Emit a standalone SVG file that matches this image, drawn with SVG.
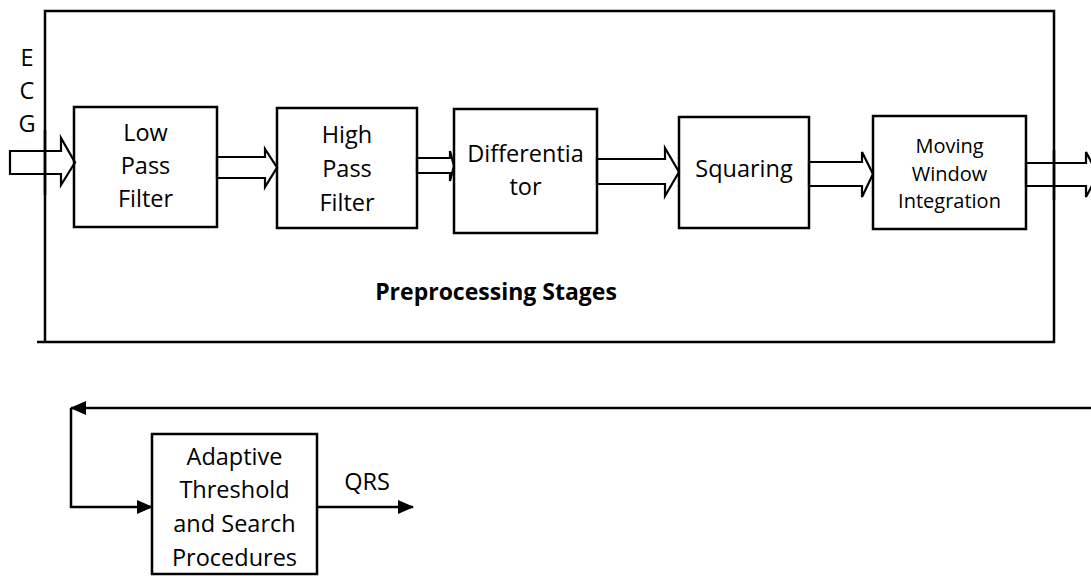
<svg xmlns="http://www.w3.org/2000/svg" width="1091" height="580" viewBox="0 0 1091 580">
<style>
.box{fill:#fff;stroke:#000;stroke-width:2.5}
.blk{fill:none;stroke:#000;stroke-width:2.2;stroke-linejoin:miter}
.ln{fill:none;stroke:#000;stroke-width:2.5}
.t{font-family:"Open Sans","Liberation Sans",sans-serif;font-size:23.5px;fill:#000;text-anchor:middle}
.s{font-size:20px}
.b{font-weight:bold;font-size:23px}
</style>
<defs>
<marker id="ah" viewBox="0 0 16 16" refX="15" refY="8" markerWidth="16" markerHeight="16" markerUnits="userSpaceOnUse" orient="auto">
<path d="M0,1 L16,8 L0,15 Z" fill="#000"/>
</marker>
</defs>
<rect width="1091" height="580" fill="#fff"/>

<g id="preprocessing-frame">
<path class="ln" d="M37,342 L1054,342 L1054,11 L45,11 L45,342"/>
<text class="t b" x="496" y="300">Preprocessing Stages</text>
</g>

<g id="ecg-label">
<text class="t" x="27" y="66">E</text>
<text class="t" x="27" y="99">C</text>
<text class="t" x="27" y="132">G</text>
</g>

<g id="low-pass-filter">
<rect class="box" x="74" y="107" width="143" height="120"/>
<text class="t" x="145.5" y="141">Low</text>
<text class="t" x="145.5" y="174">Pass</text>
<text class="t" x="145.5" y="207">Filter</text>
</g>

<g id="high-pass-filter">
<rect class="box" x="277" y="108" width="140" height="120"/>
<text class="t" x="347" y="143">High</text>
<text class="t" x="347" y="177">Pass</text>
<text class="t" x="347" y="211">Filter</text>
</g>

<g id="differentiator">
<rect class="box" x="454" y="109" width="143" height="124"/>
<text class="t" x="525.5" y="162">Differentia</text>
<text class="t" x="525.5" y="195">tor</text>
</g>

<g id="squaring">
<rect class="box" x="679" y="117" width="130" height="111"/>
<text class="t" x="744" y="177">Squaring</text>
</g>

<g id="moving-window-integration">
<rect class="box" x="873" y="116" width="153" height="113"/>
<text class="t s" x="949.5" y="153">Moving</text>
<text class="t s" x="949.5" y="181">Window</text>
<text class="t s" x="949.5" y="208">Integration</text>
</g>

<g id="adaptive-threshold">
<rect class="box" x="152" y="434" width="165" height="140"/>
<text class="t" x="234.5" y="465">Adaptive</text>
<text class="t" x="234.5" y="498">Threshold</text>
<text class="t" x="234.5" y="532">and Search</text>
<text class="t" x="234.5" y="566">Procedures</text>
</g>

<g id="connectors">
<polygon class="blk" points="10,151 61,151 61,138 75,162.5 61,185 61,174 10,174"/>
<polygon class="blk" points="217,157 265,157 265,149 277,167.5 265,187 265,178 217,178"/>
<polygon class="blk" points="417,158 450,158 450,151 454,166 450,181 450,173 417,173"/>
<polygon class="blk" points="597,159 665,159 665,148 679,172 665,196 665,184 597,184"/>
<polygon class="blk" points="809,162 862,162 862,152 873,174 862,197 862,186 809,186"/>
<polygon class="blk" points="1026,163 1086,163 1086,152 1098,174.5 1086,197 1086,186 1026,186"/>
<line class="ln" x1="1054" y1="150" x2="1054" y2="200"/>
<line class="ln" x1="45" y1="130" x2="45" y2="195"/>
<path class="ln" d="M1091,408 L71,408" marker-end="url(#ah)"/>
<path class="ln" d="M71,408 L71,507 L152,507" marker-end="url(#ah)"/>
<path class="ln" d="M317,507 L413,507" marker-end="url(#ah)"/>
<text class="t" x="367" y="490">QRS</text>
</g>
</svg>
